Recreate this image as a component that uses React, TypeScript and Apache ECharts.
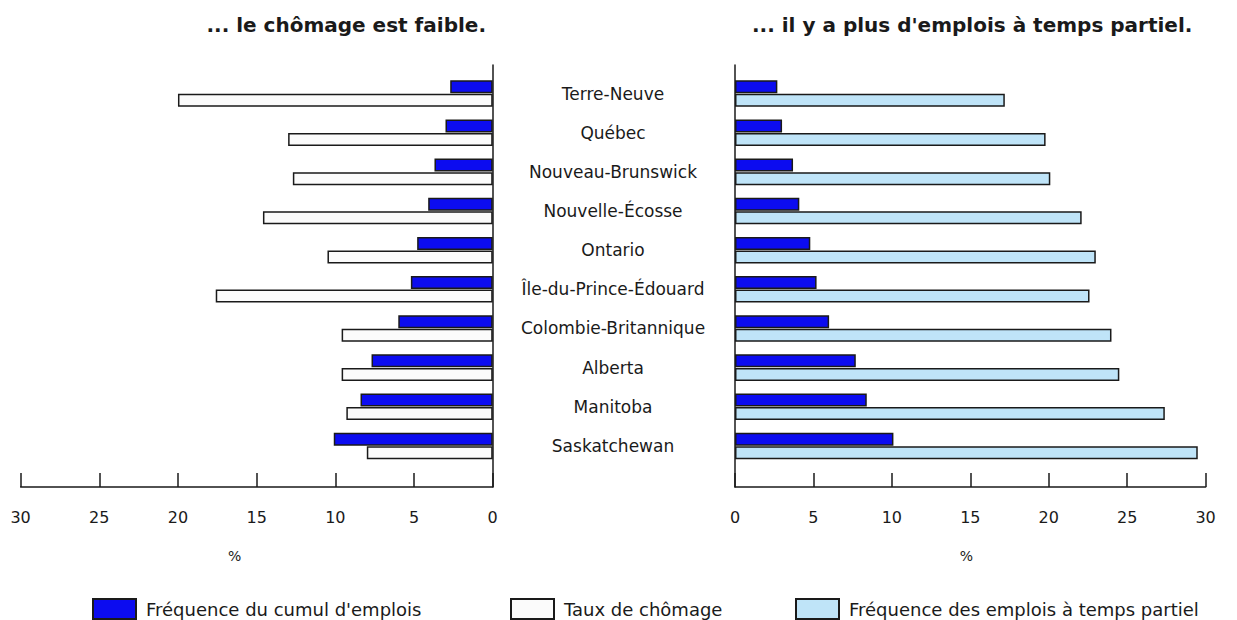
import React, { useEffect, useRef } from "react";
import * as echarts from "echarts";

const categories = [
  "Terre-Neuve",
  "Québec",
  "Nouveau-Brunswick",
  "Nouvelle-Écosse",
  "Ontario",
  "Île-du-Prince-Édouard",
  "Colombie-Britannique",
  "Alberta",
  "Manitoba",
  "Saskatchewan",
];
const cumulEmplois = [2.7, 3.0, 3.7, 4.1, 4.8, 5.2, 6.0, 7.7, 8.4, 10.1];
const tauxChomage = [20.0, 13.0, 12.7, 14.6, 10.5, 17.6, 9.6, 9.6, 9.3, 8.0];
const tempsPartiel = [17.2, 19.8, 20.1, 22.1, 23.0, 22.6, 24.0, 24.5, 27.4, 29.5];

const titleLeft = "... le chômage est faible.";
const titleRight = "... il y a plus d'emplois à temps partiel.";
const nameCumul = "Fréquence du cumul d'emplois";
const nameChomage = "Taux de chômage";
const namePartiel = "Fréquence des emplois à temps partiel";

const FONT = "DejaVu Sans, Verdana, sans-serif";
const BLUE = "#0c0cf0";
const LIGHT = "#bfe4f8";
const INK = "#1a1a1a";

export default function App() {
  const ref = useRef<HTMLDivElement>(null);
  useEffect(() => {
    if (!ref.current) return;
    const chart = echarts.init(ref.current, null, { renderer: "svg" });

    const frameTop = 65;
    const frameH = 422;
    const barTop = 74;
    const barH = 391.5;
    const L = { left: 20.6, width: 472.1 };
    const R = { left: 735, width: 470.6 };

    const valueAxisHidden = (inverse: boolean, gridIndex: number) => ({
      type: "value",
      gridIndex,
      min: 0,
      max: 30,
      interval: 5,
      inverse,
      show: false,
    });

    const frameX = (inverse: boolean, gridIndex: number) => ({
      type: "value",
      gridIndex,
      min: 0,
      max: 30,
      interval: 5,
      inverse,
      axisLine: { show: true, lineStyle: { color: INK, width: 1.5 } },
      axisTick: { show: true, inside: true, length: 14, lineStyle: { color: INK, width: 1.5 } },
      splitLine: { show: false },
      axisLabel: { fontFamily: FONT, fontSize: 16, color: INK, margin: 22 },
      name: "%",
      nameLocation: "middle",
      nameGap: 62,
      nameTextStyle: {
        fontFamily: FONT,
        fontSize: 14,
        color: INK,
        padding: inverse ? [0, 44, 0, 0] : [0, 8, 0, 0],
      },
    });

    const frameY = (position: string, gridIndex: number) => ({
      type: "value",
      gridIndex,
      position,
      min: 0,
      max: 1,
      axisLine: { show: true, lineStyle: { color: INK, width: 1.5 } },
      axisTick: { show: false },
      axisLabel: { show: false },
      splitLine: { show: false },
    });

    const barBorder = { borderColor: INK, borderWidth: 1.5 };

    const legendItem = (name: string, left: number) => ({
      left,
      top: 593,
      itemWidth: 43,
      itemHeight: 20,
      icon: "rect",
      textStyle: { fontFamily: FONT, fontSize: 18, color: INK, padding: [0, 0, 0, 5] },
      data: [name],
    });

    chart.setOption({
      animation: false,
      backgroundColor: "#ffffff",
      title: [
        {
          text: titleLeft,
          right: 1237 - 491,
          top: 10,
          textStyle: { fontFamily: FONT, fontSize: 20, fontWeight: "bold", color: INK },
        },
        {
          text: titleRight,
          left: 747,
          top: 10,
          textStyle: { fontFamily: FONT, fontSize: 20, fontWeight: "bold", color: INK },
        },
      ],
      legend: [
        legendItem(nameCumul, 87),
        legendItem(nameChomage, 505),
        legendItem(namePartiel, 790),
      ],
      grid: [
        { left: L.left, width: L.width, top: frameTop, height: frameH },
        { left: R.left, width: R.width, top: frameTop, height: frameH },
        { left: L.left, width: L.width, top: barTop, height: barH },
        { left: R.left, width: R.width, top: barTop, height: barH },
      ],
      xAxis: [
        frameX(true, 0),
        frameX(false, 1),
        valueAxisHidden(true, 2),
        valueAxisHidden(false, 3),
      ],
      yAxis: [
        frameY("right", 0),
        frameY("left", 1),
        {
          type: "category",
          gridIndex: 2,
          data: categories,
          inverse: true,
          show: false,
        },
        {
          type: "category",
          gridIndex: 3,
          data: categories,
          inverse: true,
          axisLine: { show: false },
          axisTick: { show: false },
          axisLabel: {
            show: true,
            align: "center",
            margin: 122,
            fontFamily: FONT,
            fontSize: 17,
            color: INK,
            padding: [9, 0, 0, 0],
          },
        },
      ],
      series: [
        {
          type: "bar",
          name: nameCumul,
          xAxisIndex: 2,
          yAxisIndex: 2,
          data: cumulEmplois,
          barWidth: 13,
          barGap: "4%",
          itemStyle: { color: BLUE, ...barBorder },
        },
        {
          type: "bar",
          name: nameChomage,
          xAxisIndex: 2,
          yAxisIndex: 2,
          data: tauxChomage,
          barWidth: 13,
          barGap: "4%",
          itemStyle: { color: "#fbfbfb", ...barBorder },
        },
        {
          type: "bar",
          name: nameCumul,
          xAxisIndex: 3,
          yAxisIndex: 3,
          data: cumulEmplois,
          barWidth: 13,
          barGap: "4%",
          itemStyle: { color: BLUE, ...barBorder },
        },
        {
          type: "bar",
          name: namePartiel,
          xAxisIndex: 3,
          yAxisIndex: 3,
          data: tempsPartiel,
          barWidth: 13,
          barGap: "4%",
          itemStyle: { color: LIGHT, ...barBorder },
        },
      ],
    });

    return () => chart.dispose();
  }, []);

  return <div ref={ref} style={{ width: 1237, height: 620, position: "absolute", left: 0, top: 0 }} />;
}
